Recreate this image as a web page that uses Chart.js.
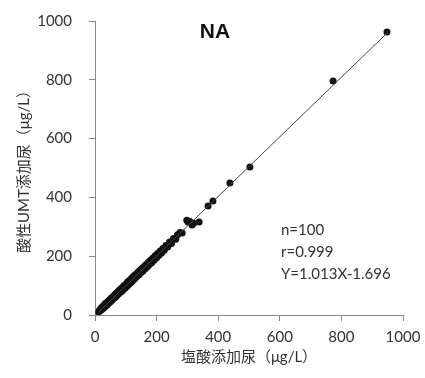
<!DOCTYPE html>
<html>
<head>
<meta charset="utf-8">
<script src="https://cdn.jsdelivr.net/npm/chart.js@4.4.0/dist/chart.umd.min.js"></script>
<style>
  body { margin: 0; background: #fff; }
</style>
</head>
<body>
<canvas id="myChart" width="425" height="378"></canvas>
<script>
// 塩酸添加尿 (x) と 酸性UMT添加尿 (y)
const xValues = [12, 15, 18, 20, 22, 25, 27, 28, 30, 32, 35, 37, 40, 42, 45, 47, 50, 52, 55, 57,
    60, 62, 64, 65, 68, 70, 72, 75, 78, 80, 83, 85, 88, 90, 93, 95, 98, 100, 103, 105,
    108, 110, 112, 113, 115, 118, 120, 123, 125, 128, 130, 133, 136, 140, 143, 146, 150, 153, 156, 160,
    163, 166, 170, 173, 176, 180, 184, 188, 192, 196, 200, 204, 208, 212, 216, 220, 225, 230, 236, 242,
    248, 255, 262, 268, 276, 283, 298, 302, 308, 315, 320, 338, 367, 383, 438, 503, 773, 948];
const yValues = [10, 17, 15, 24, 19, 29, 23, 31, 26, 37, 31, 42, 35, 46, 41, 51, 45, 57, 50, 61,
    56, 66, 59, 70, 63, 75, 67, 80, 73, 85, 78, 90, 82, 95, 88, 100, 92, 105, 97, 111,
    102, 116, 107, 118, 110, 124, 114, 129, 120, 134, 125, 139, 131, 146, 137, 152, 145, 159, 150, 166,
    157, 172, 164, 179, 171, 186, 178, 194, 186, 202, 195, 210, 203, 218, 211, 226, 220, 236, 231, 248,
    243, 260, 258, 273, 281, 279, 322, 316, 318, 306, 312, 316, 371, 388, 449, 503, 796, 963];

// 回帰直線 Y=1.013X-1.696 の両端
const lineX = [10, 950];
const lineY = [8.4, 960.7];

const xTicks = [0, 200, 400, 600, 800, 1000];
const yTicks = [0, 200, 400, 600, 800, 1000];

const infoLines = ['n=100', 'r=0.999', 'Y=1.013X-1.696'];

const puntos = xValues.map(function (x, i) { return { x: x, y: yValues[i] }; });
const linea = lineX.map(function (x, i) { return { x: x, y: lineY[i] }; });

const fuente = 'Lato, "Noto Sans CJK JP", sans-serif';

// textos dentro del grafico (titulo NA y estadisticos)
const textosPlugin = {
    id: 'textos',
    afterDraw: function (chart) {
        const ctx = chart.ctx;
        ctx.save();
        ctx.fillStyle = '#111';
        ctx.font = 'bold 21px "Liberation Sans", Arial, sans-serif';
        ctx.textAlign = 'center';
        ctx.textBaseline = 'alphabetic';
        ctx.fillText('NA', 215, 38);

        ctx.fillStyle = '#333';
        ctx.font = '15px ' + fuente;
        ctx.textAlign = 'left';
        infoLines.forEach(function (t, i) {
            ctx.fillText(t, 281, 235 + i * 22);
        });
        ctx.restore();
    }
};

const ctx = document.getElementById('myChart').getContext('2d');
const myChart = new Chart(ctx, {
    type: 'scatter',
    data: {
        datasets: [
            {
                type: 'line',
                data: linea,
                borderColor: '#444',
                borderWidth: 1,
                pointRadius: 0,
                fill: false
            },
            {
                data: puntos,
                backgroundColor: '#111',
                borderColor: '#111',
                pointRadius: 3.5,
                pointBorderWidth: 0
            }
        ]
    },
    options: {
        responsive: false,
        animation: false,
        devicePixelRatio: 1,
        layout: { padding: { top: 21, right: 22, left: 0, bottom: 0 } },
        plugins: {
            legend: { display: false },
            tooltip: { enabled: false }
        },
        scales: {
            x: {
                type: 'linear',
                min: 0,
                max: 1000,
                afterBuildTicks: function (s) { s.ticks = xTicks.map(function (v) { return { value: v }; }); },
                afterFit: function (s) { s.height = 63; s.paddingLeft = 0; s.paddingRight = 0; },
                ticks: {
                    color: '#333', font: { family: fuente, size: 15 }, padding: 7,
                    callback: function (v) { return String(v); }
                },
                grid: { drawOnChartArea: false, drawTicks: true, tickLength: 6, color: '#888' },
                border: { color: '#888' },
                title: {
                    display: true,
                    text: '塩酸添加尿（μg/L）',
                    color: '#333',
                    font: { family: fuente, size: 15 },
                    padding: { top: 0, bottom: 12 }
                }
            },
            y: {
                type: 'linear',
                min: 0,
                max: 1000,
                afterBuildTicks: function (s) { s.ticks = yTicks.map(function (v) { return { value: v }; }); },
                afterFit: function (s) { s.width = 95; s.paddingTop = 0; s.paddingBottom = 0; },
                ticks: {
                    color: '#333', font: { family: fuente, size: 15 }, padding: 17,
                    callback: function (v) { return String(v); }
                },
                grid: { drawOnChartArea: false, drawTicks: true, tickLength: 6, color: '#888' },
                border: { color: '#888' },
                title: {
                    display: true,
                    text: '酸性UMT添加尿（μg/L）',
                    color: '#333',
                    font: { family: fuente, size: 15 },
                    padding: { top: 15, bottom: 0 }
                }
            }
        }
    },
    plugins: [textosPlugin]
});
</script>
</body>
</html>
